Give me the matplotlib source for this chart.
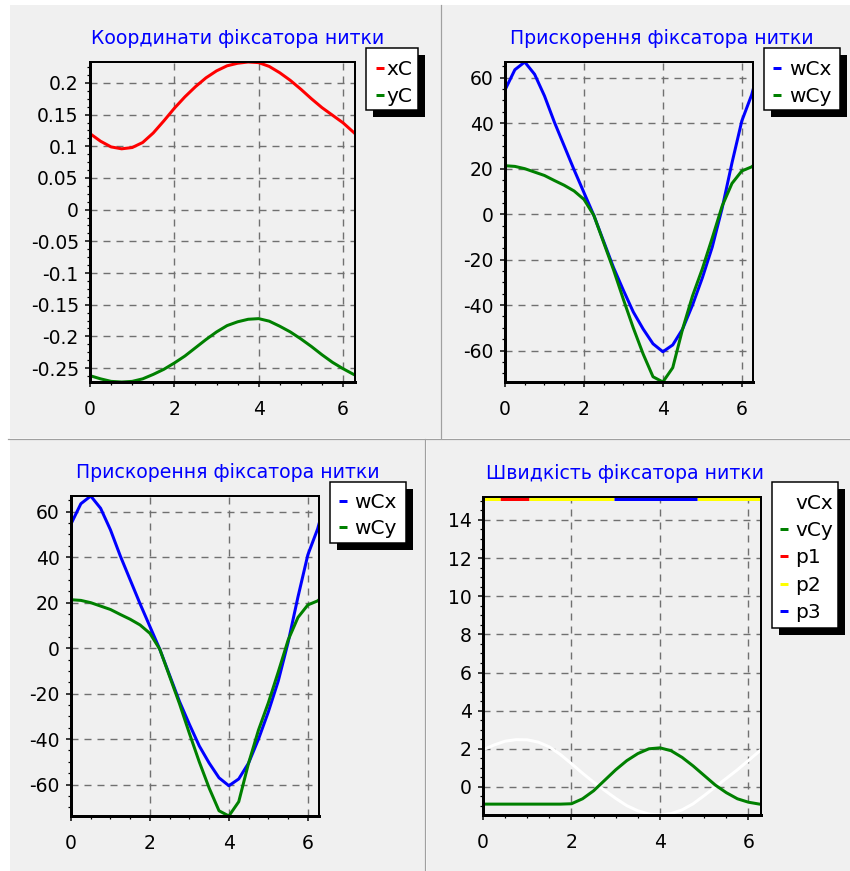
import matplotlib
matplotlib.use('Agg')
import matplotlib.pyplot as plt
from matplotlib.patches import Rectangle
from matplotlib.ticker import MultipleLocator, AutoMinorLocator, FuncFormatter

plt.rcParams['font.family'] = ['DejaVu Sans']
plt.rcParams['axes.unicode_minus'] = False
plt.rcParams['lines.scale_dashes'] = False

W, H = 850, 871
PT = 72 / 100  # points per pixel at dpi=100

# crank angle samples
phi = [0.0, 0.25, 0.5, 0.75, 1.0, 1.25, 1.5, 1.75, 2.0, 2.25, 2.5, 2.75, 3.0,
       3.25, 3.5, 3.75, 4.0, 4.25, 4.5, 4.75, 5.0, 5.25, 5.5, 5.75, 6.0, 6.25, 6.2832]

# coordinates of the thread fixer
x_c = [0.120, 0.108, 0.099, 0.096, 0.098, 0.106, 0.121, 0.140, 0.160, 0.178, 0.194,
       0.208, 0.219, 0.227, 0.231, 0.233, 0.232, 0.226, 0.216, 0.204, 0.190, 0.175,
       0.161, 0.149, 0.137, 0.122, 0.120]
y_c = [-0.262, -0.267, -0.271, -0.272, -0.271, -0.267, -0.260, -0.252, -0.242, -0.231,
       -0.218, -0.205, -0.193, -0.183, -0.177, -0.173, -0.172, -0.176, -0.184, -0.193,
       -0.204, -0.216, -0.229, -0.241, -0.251, -0.260, -0.261]

# accelerations
w_cx = [54.6, 63.5, 66.9, 61.5, 52.0, 40.5, 30.0, 19.5, 9.5, -0.5, -12.0, -23.5, -33.5,
        -43.0, -50.5, -57.0, -60.5, -57.5, -50.5, -40.0, -28.0, -14.5, 2.5, 22.5, 41.0,
        52.5, 54.6]
w_cy = [21.3, 21.0, 20.0, 18.5, 17.0, 14.8, 12.7, 10.2, 6.5, -0.5, -12.5, -24.5, -37.5,
        -50.0, -61.5, -71.5, -73.8, -67.5, -50.5, -36.0, -24.0, -10.5, 3.5, 13.5, 19.0,
        20.8, 21.3]

# velocities
v_cx = [1.95, 2.2, 2.4, 2.48, 2.47, 2.35, 2.1, 1.7, 1.22, 0.72, 0.25, -0.18, -0.6,
        -0.98, -1.25, -1.42, -1.47, -1.4, -1.2, -0.88, -0.45, 0.0, 0.45, 0.9, 1.39,
        1.88, 1.95]
v_cy = [-0.9, -0.9, -0.9, -0.9, -0.9, -0.9, -0.9, -0.9, -0.88, -0.62, -0.2, 0.35, 0.9,
        1.38, 1.75, 2.0, 2.05, 1.9, 1.55, 1.1, 0.6, 0.1, -0.3, -0.62, -0.8, -0.9, -0.9]

# phase markers
p_level = 15.1
p1_spans = [(0.39, 1.03)]
p2_spans = [(0.0, 0.39), (1.03, 2.97), (4.83, 6.2832)]
p3_spans = [(2.97, 4.83)]

BG = '#f0f0f0'
RED, GREEN, BLUE, YELLOW = '#ff0000', '#008000', '#0000ff', '#ffff00'
LW = 3 * PT
FS = 13.5
LEG_FS = 14.5

fig = plt.figure(figsize=(W / 100, H / 100), dpi=100)
fig.patch.set_facecolor('white')

# panel backgrounds and separators
back = fig.add_axes([0, 0, 1, 1], zorder=-10)
back.set_xlim(0, W)
back.set_ylim(H, 0)
back.axis('off')
for x0, y0, x1, y1 in [(10, 5, 441, 438), (442, 5, 850, 438),
                       (10, 439, 425, 871), (427, 439, 850, 871)]:
    back.add_patch(Rectangle((x0, y0), x1 - x0, y1 - y0, facecolor=BG, edgecolor='none'))
back.plot([441.5, 441.5], [5, 438], color='#a0a0a0', lw=1.2 * PT)
back.plot([8, 850], [438.5, 438.5], color='#a0a0a0', lw=1.2 * PT)
back.plot([425.5, 425.5], [439, 871], color='#a0a0a0', lw=1.2 * PT)

over = fig.add_axes([0, 0, 1, 1], zorder=10)
over.set_xlim(0, W)
over.set_ylim(H, 0)
over.axis('off')


def fmt(v, pos):
    if abs(v) < 1e-9:
        return '0'
    return '%g' % round(v, 6)


def make_axes(box, ylim, ystep):
    l, t, r, b = box
    ax = fig.add_axes([l / W, 1 - b / H, (r - l) / W, (b - t) / H])
    ax.set_facecolor(BG)
    ax.set_xlim(0, 6.2832)
    ax.set_ylim(*ylim)
    ax.xaxis.set_major_locator(MultipleLocator(2))
    ax.yaxis.set_major_locator(MultipleLocator(ystep))
    ax.xaxis.set_minor_locator(AutoMinorLocator(4))
    ax.yaxis.set_minor_locator(AutoMinorLocator(4))
    ax.yaxis.set_major_formatter(FuncFormatter(fmt))
    ax.xaxis.set_major_formatter(FuncFormatter(fmt))
    ax.grid(True, which='major', color='#707070', lw=1.4 * PT,
            linestyle=(0, (7 * PT, 6 * PT)))
    ax.tick_params(which='major', direction='out', length=5 * PT, width=1.5 * PT,
                   labelsize=FS, colors='black')
    ax.tick_params(which='minor', direction='out', length=3 * PT, width=1.2 * PT)
    ax.tick_params(axis='x', which='major', pad=9.5)
    ax.tick_params(axis='y', which='major', pad=4.5)
    for side in ('left', 'bottom'):
        ax.spines[side].set_linewidth(3 * PT)
    for side in ('top', 'right'):
        ax.spines[side].set_linewidth(2 * PT)
    return ax


def title(xc, base, text):
    over.text(xc, base, text, ha='center', va='baseline', fontsize=13.6, color='#0000ff')


def legend(x0, y0, x1, y1, rows, row_y0, mark_x, text_x, dy=26.7):
    over.add_patch(Rectangle((x0 + 7, y0 + 7), x1 - x0, y1 - y0,
                             facecolor='black', edgecolor='none'))
    over.add_patch(Rectangle((x0, y0), x1 - x0, y1 - y0, facecolor='white',
                             edgecolor='black', lw=1.5 * PT))
    for i, (label, color) in enumerate(rows):
        yy = row_y0 + i * dy
        over.plot([mark_x, mark_x + 8], [yy, yy], color=color, lw=LW,
                  solid_capstyle='butt')
        over.text(text_x, yy + 7, label, fontsize=LEG_FS, va='baseline', ha='left')


# top left: coordinates
ax1 = make_axes((90, 62, 355, 382), (min(y_c), max(x_c)), 0.05)
ax1.plot(phi, x_c, color=RED, lw=LW)
ax1.plot(phi, y_c, color=GREEN, lw=LW)
title(237.5, 44.3, 'Координати фіксатора нитки')
legend(366, 48, 418, 110, [('xC', RED), ('yC', GREEN)], 68.3, 376, 386.5)

# top right and bottom left: accelerations
for box, tpos, lpos in [((505, 62, 753, 382), (661.7, 44.0), (764, 48, 840, 110, 68.3, 773, 789)),
                        ((71, 496, 319, 816), (227.7, 478.3), (330, 482, 406, 543, 500.5, 339, 354))]:
    ax = make_axes(box, (min(w_cy), max(w_cx)), 20)
    ax.plot(phi, w_cx, color=BLUE, lw=LW)
    ax.plot(phi, w_cy, color=GREEN, lw=LW)
    title(tpos[0], tpos[1], 'Прискорення фіксатора нитки')
    x0, y0, x1, y1, ry, mx, tx = lpos
    legend(x0, y0, x1, y1, [('wCx', BLUE), ('wCy', GREEN)], ry, mx, tx)

# bottom right: velocities
ax4 = make_axes((483, 497, 761, 815), (min(v_cx), p_level + 0.1), 2)
ax4.plot(phi, v_cx, color='white', lw=LW)
ax4.plot(phi, v_cy, color=GREEN, lw=LW)
for spans, color in [(p1_spans, RED), (p2_spans, YELLOW), (p3_spans, BLUE)]:
    for a, b in spans:
        ax4.plot([a, b], [p_level, p_level], color=color, lw=LW, solid_capstyle='butt')
title(624.7, 479, 'Швидкість фіксатора нитки')
legend(772, 482, 838, 628, [('vCx', 'white'), ('vCy', GREEN), ('p1', RED),
                            ('p2', YELLOW), ('p3', BLUE)], 501.7, 780, 795, dy=27.3)

fig.savefig('out.png', dpi=100, facecolor='white')
